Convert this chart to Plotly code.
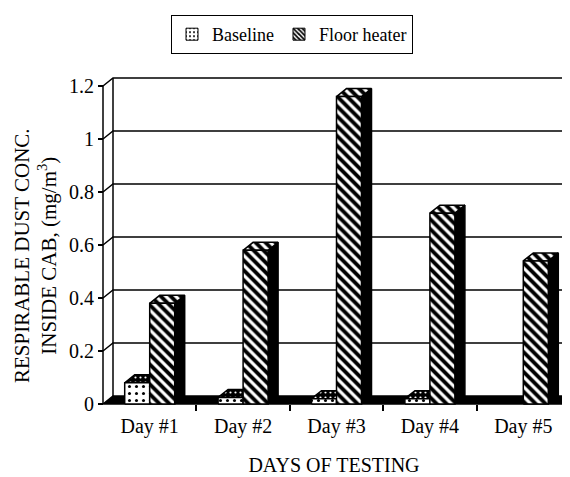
import plotly.graph_objects as go

# ---- data ----
days = ["Day #1", "Day #2", "Day #3", "Day #4", "Day #5"]
baseline = [0.08, 0.025, 0.02, 0.02, 0.0]
floor_heater = [0.38, 0.58, 1.16, 0.72, 0.54]
y_ticks = [0, 0.2, 0.4, 0.6, 0.8, 1.0, 1.2]
y_tick_text = ["0", "0.2", "0.4", "0.6", "0.8", "1", "1.2"]
series_names = ["Baseline", "Floor heater"]
y_title = "RESPIRABLE DUST CONC.<br>INSIDE CAB, (mg/m<sup>3</sup>)"
x_title = "DAYS OF TESTING"

# ---- geometry (page body has an 8px margin) ----
OFF = 8
W, H = 570 - OFF, 477 - OFF
ML, MT, MB = 98 - OFF, 75 - OFF, 69
plot_w = W - ML
plot_h = H - MT - MB
px_x = 93.4          # pixels per category
px_y = 265.0         # pixels per unit of y
pad_l = 5            # px left of the front axis
pad_b = 4            # px below zero
xmin = -0.5 - pad_l / px_x
xmax = xmin + plot_w / px_x
ymin = -pad_b / px_y
ymax = ymin + plot_h / px_y
dx = 10 / px_x       # depth offset (x)
dy = 8 / px_y        # depth offset (y)
bw = 25 / px_x       # bar width
x0 = -0.5

FONT = "Liberation Serif"
LW = 1.5

pat_base = dict(shape=".", fgcolor="black", bgcolor="white", size=7, solidity=0.15)
pat_heat = dict(shape="\\", fgcolor="black", bgcolor="white", size=7, solidity=0.55)
pat_base_top = dict(shape=".", fgcolor="white", bgcolor="black", size=5, solidity=0.15)

fig = go.Figure()

def poly(xs, ys, fillcolor="white", pattern=None):
    tr = go.Scatter(x=xs + [xs[0]], y=ys + [ys[0]], mode="lines", fill="toself",
                    fillcolor=fillcolor, line=dict(color="black", width=LW),
                    showlegend=False, hoverinfo="skip")
    if pattern is not None:
        tr.fillpattern = pattern
    fig.add_trace(tr)

# back wall gridlines + left wall diagonals
gx, gy = [], []
for v in y_ticks[1:]:
    gx += [x0, x0 + dx, xmax + 1, None]
    gy += [v, v + dy, v + dy, None]
fig.add_trace(go.Scatter(x=gx, y=gy, mode="lines", line=dict(color="black", width=LW),
                         showlegend=False, hoverinfo="skip"))
# back vertical line of the left wall and front axis line
fig.add_trace(go.Scatter(x=[x0 + dx, x0 + dx, None, x0, x0],
                         y=[dy, y_ticks[-1] + dy, None, 0, y_ticks[-1]],
                         mode="lines", line=dict(color="black", width=LW),
                         showlegend=False, hoverinfo="skip"))
# floor
poly([x0, xmax + 1, xmax + 1 + dx, x0 + dx], [0, 0, dy, dy], fillcolor="black")

# bars
for i in range(len(days)):
    c = i
    for s, (vals, pat, toppat) in enumerate([(baseline, pat_base, pat_base_top),
                                            (floor_heater, pat_heat, pat_heat)]):
        v = vals[i]
        if v <= 0:
            continue
        xl = c - bw if s == 0 else c
        xr = xl + bw
        # side
        poly([xr, xr + dx, xr + dx, xr], [0, dy, v + dy, v], fillcolor="black")
        # top
        if s == 0:
            poly([xl, xr, xr + dx, xl + dx], [v, v, v + dy, v + dy], fillcolor="black",
                 pattern=toppat)
        else:
            poly([xl, xr, xr + dx, xl + dx], [v, v, v + dy, v + dy], fillcolor="white",
                 pattern=toppat)
        # front
        poly([xl, xr, xr, xl], [0, 0, v, v], fillcolor="white", pattern=pat)

# legend entries
fig.add_trace(go.Bar(x=[None], y=[None], name=series_names[0],
                     marker=dict(color="white", line=dict(color="black", width=1),
                                 pattern=dict(shape=".", fgcolor="black", bgcolor="white",
                                              size=5, solidity=0.2))))
fig.add_trace(go.Bar(x=[None], y=[None], name=series_names[1],
                     marker=dict(color="white", line=dict(color="black", width=1),
                                 pattern=dict(shape="\\", fgcolor="black", bgcolor="white",
                                              size=4, solidity=0.55))))

# y-axis title as rotated text block
fig.add_annotation(text=y_title, textangle=-90, showarrow=False,
                   xref="paper", yref="paper",
                   x=(35 - OFF - ML) / plot_w, y=((H - MB) - (256 - OFF)) / plot_h,
                   xanchor="center", yanchor="middle",
                   font=dict(family=FONT, size=21, color="black"))

fig.update_layout(
    template="none",
    width=W, height=H,
    margin=dict(l=ML, r=0, t=MT, b=MB, autoexpand=False),
    paper_bgcolor="white", plot_bgcolor="white",
    font=dict(family=FONT, color="black", size=20),
    showlegend=True,
    legend=dict(orientation="h", xref="container", yref="container",
                x=(292 - OFF) / W, xanchor="center", y=1 - (15 - OFF) / H, yanchor="top",
                bordercolor="black", borderwidth=1, bgcolor="white",
                font=dict(family=FONT, size=18, color="black"),
                itemwidth=30, traceorder="normal", tracegroupgap=0),
    xaxis=dict(type="linear", range=[xmin, xmax], anchor="free", position=pad_b / plot_h,
               automargin=False, ticklabelstandoff=8,
               tickmode="array", tickvals=list(range(len(days))), ticktext=days,
               ticks="", showgrid=False, zeroline=False, showline=False,
               tickfont=dict(family=FONT, size=20, color="black"),
               minor=dict(tickmode="array", tickvals=[k + 0.5 for k in range(len(days))],
                          ticks="outside", ticklen=6, tickwidth=1.5, tickcolor="black",
                          showgrid=False),
               title=dict(text=x_title, standoff=20,
                          font=dict(family=FONT, size=20, color="black"))),
    yaxis=dict(range=[ymin, ymax], anchor="free", position=pad_l / plot_w,
               automargin=False,
               tickmode="array", tickvals=y_ticks, ticktext=y_tick_text,
               ticks="outside", ticklen=5, tickwidth=1.5, tickcolor="black",
               showgrid=False, zeroline=False, showline=False,
               tickfont=dict(family=FONT, size=20, color="black")),
)

fig.write_html("out.html")
